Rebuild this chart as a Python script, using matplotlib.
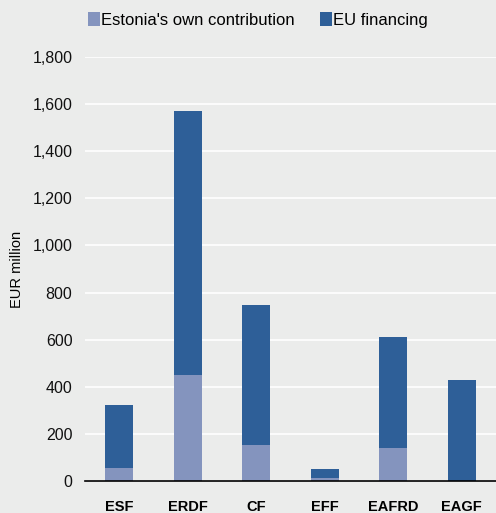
import numpy as np
import matplotlib.pyplot as plt

plt.rcParams['font.family'] = ['Liberation Sans', 'DejaVu Sans']

funds = ['ESF', 'ERDF', 'CF', 'EFF', 'EAFRD', 'EAGF']
own_contribution = [57, 450, 153, 12, 140, 0]
eu_total = [322, 1570, 747, 50, 612, 430]
eu_financing = [t - o for t, o in zip(eu_total, own_contribution)]

bg = '#ebeceb'
c_own = '#8494be'
c_eu = '#2e5f98'

fig = plt.figure(figsize=(4.96, 5.13), dpi=100, facecolor=bg)
ax = fig.add_axes([85 / 496, 1 - 481 / 513, 411 / 496, 424 / 513], facecolor=bg)

x = np.arange(len(funds))
w = 0.41
ax.bar(x, own_contribution, w, color=c_own, label="Estonia's own contribution", zorder=3)
ax.bar(x, eu_financing, w, bottom=own_contribution, color=c_eu, label='EU financing', zorder=3)

ax.set_xlim(-0.5, 5.5)
ax.set_ylim(0, 1800)
ax.set_yticks(np.arange(0, 1801, 200))
ax.set_yticklabels([f'{v:,}' for v in range(0, 1801, 200)])
ax.yaxis.grid(True, color='white', linewidth=1.2, zorder=0)
ax.set_axisbelow(True)
for s in ['top', 'right', 'left']:
    ax.spines[s].set_visible(False)
ax.spines['bottom'].set_color('black')
ax.spines['bottom'].set_linewidth(1.2)
ax.spines['bottom'].set_zorder(4)
ax.tick_params(axis='y', length=0, labelsize=11.5, pad=9, colors='#111111')
ax.tick_params(axis='x', length=0, pad=14)
ax.set_xticks(x)
ax.set_xticklabels(funds, fontsize=10.5, fontweight='bold')
ax.set_ylabel('EUR million', fontsize=10.5)
ax.yaxis.set_label_coords(-0.148, 0.5)

fig.legend(loc='upper center', bbox_to_anchor=(0.52, 1.005), ncol=2, frameon=False,
           fontsize=12, handlelength=0.7, handleheight=0.85, handletextpad=0.1,
           columnspacing=1.5)

fig.savefig('out.png', dpi=100, facecolor=bg)
